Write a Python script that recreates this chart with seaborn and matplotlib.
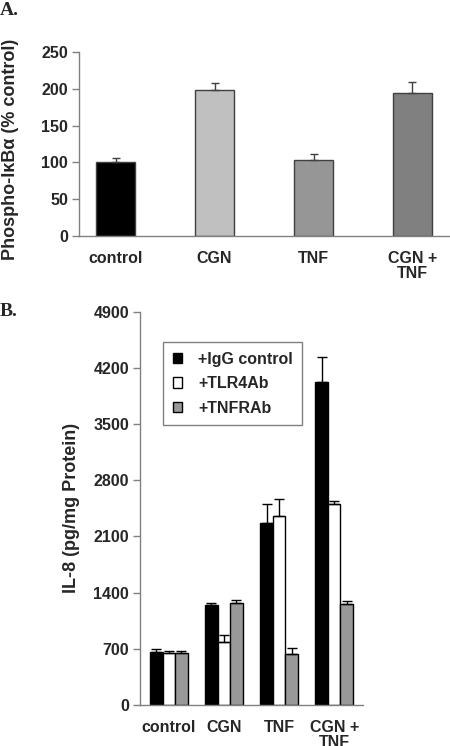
import matplotlib
matplotlib.use("Agg")
import matplotlib.pyplot as plt
import seaborn as sns
import pandas as pd
from matplotlib.patches import Patch

# ---- data ----
cats_a = ["control", "CGN", "TNF", "CGN +\nTNF"]
vals_a = [100, 199, 103, 194]
err_a = [6, 9, 9, 15]
colors_a = ["#000000", "#c0c0c0", "#969696", "#808080"]

cats_b = ["control", "CGN", "TNF", "CGN +\nTNF"]
series_b = ["+IgG control", "+TLR4Ab", "+TNFRAb"]
igg = [664, 1246, 2271, 4028]
igg_err = [29, 29, 229, 312]
tlr4 = [644, 789, 2359, 2500]
tlr4_err = [33, 87, 207, 46]
tnfr = [644, 1275, 631, 1258]
tnfr_err = [33, 33, 83, 33]
colors_b = ["#000000", "#ffffff", "#999999"]

yticks_a = [0, 50, 100, 150, 200, 250]
yticks_b = [0, 700, 1400, 2100, 2800, 3500, 4200, 4900]

sns.set_style("white")
plt.rcParams["font.family"] = ["Liberation Sans", "DejaVu Sans"]
plt.rcParams["font.weight"] = "bold"

fig = plt.figure(figsize=(4.5, 7.46), dpi=100)
axA = fig.add_axes([79/450, 1-236/746, 1-79/450-0.002, (236-52)/746])
axB = fig.add_axes([140/450, 1-705/746, (363-140)/450, (705-311.7)/746])

spine_c = "#808080"

# ---- panel A ----
dfA = pd.DataFrame({"cat": cats_a, "val": vals_a})
sns.barplot(data=dfA, x="cat", y="val", hue="cat", palette=colors_a, legend=False,
            width=0.4, edgecolor="#404040", linewidth=1, ax=axA, errorbar=None)
for p, e in zip(axA.patches, err_a):
    xc = p.get_x() + p.get_width()/2
    axA.errorbar(xc, p.get_height(), yerr=[[0], [e]], fmt="none", ecolor="#404040",
                 elinewidth=1, capsize=3, capthick=1)
axA.set_ylim(0, 250)
axA.set_yticks(yticks_a)
axA.set_xlabel("")
axA.set_ylabel("Phospho-IκBα (% control)", fontsize=13, fontweight="bold")
axA.yaxis.set_label_coords(-0.162, 0.47)

# ---- panel B ----
rows = []
for c, a, b, d in zip(cats_b, igg, tlr4, tnfr):
    rows += [(c, series_b[0], a), (c, series_b[1], b), (c, series_b[2], d)]
dfB = pd.DataFrame(rows, columns=["cat", "grp", "val"])
sns.barplot(data=dfB, x="cat", y="val", hue="grp", hue_order=series_b, palette=colors_b,
            width=0.68, edgecolor="#000000", linewidth=1, ax=axB, errorbar=None)
errs = igg_err + tlr4_err + tnfr_err
for p, e in zip(axB.patches[:12], errs):
    xc = p.get_x() + p.get_width()/2
    axB.errorbar(xc, p.get_height(), yerr=[[0], [e]], fmt="none", ecolor="#000000",
                 elinewidth=1, capsize=3.5, capthick=1)
axB.set_ylim(0, 4900)
axB.set_yticks(yticks_b)
axB.set_xlabel("")
axB.set_ylabel("IL-8 (pg/mg Protein)", fontsize=13, fontweight="bold")
axB.yaxis.set_label_coords(-0.27, 0.5)

handles = [Patch(facecolor=c, edgecolor="#000000", linewidth=1) for c in colors_b]
axB.legend(handles, series_b, loc="upper left", bbox_to_anchor=(163/450, 1-342/746),
           bbox_transform=fig.transFigure, frameon=True, fancybox=False,
           borderaxespad=0, edgecolor="#606060", handlelength=0.6, handleheight=0.6,
           handletextpad=1.0, borderpad=0.6, labelspacing=0.6,
           prop={"size": 11.5, "weight": "bold"})
axB.get_legend().get_frame().set_linewidth(1)

for ax in (axA, axB):
    sns.despine(ax=ax)
    for s in ("left", "bottom"):
        ax.spines[s].set_color(spine_c)
        ax.spines[s].set_linewidth(1)
    ax.tick_params(axis="y", left=True, length=5, width=1, color=spine_c,
                   labelsize=11.5, pad=3)
    ax.tick_params(axis="x", bottom=False, labelsize=11.5, pad=7)
    for t in ax.get_xticklabels() + ax.get_yticklabels():
        t.set_fontweight("bold")
    for t in ax.get_xticklabels():
        t.set_linespacing(1.0)
        t.set_verticalalignment("top")

fig.text(0.0, 1-2/746, "A.", fontsize=14, fontweight="bold", va="top", ha="left",
         family=["Liberation Serif", "DejaVu Serif"])
fig.text(0.0, 1-303/746, "B.", fontsize=14, fontweight="bold", va="top", ha="left",
         family=["Liberation Serif", "DejaVu Serif"])

fig.savefig("out.png", dpi=100)
